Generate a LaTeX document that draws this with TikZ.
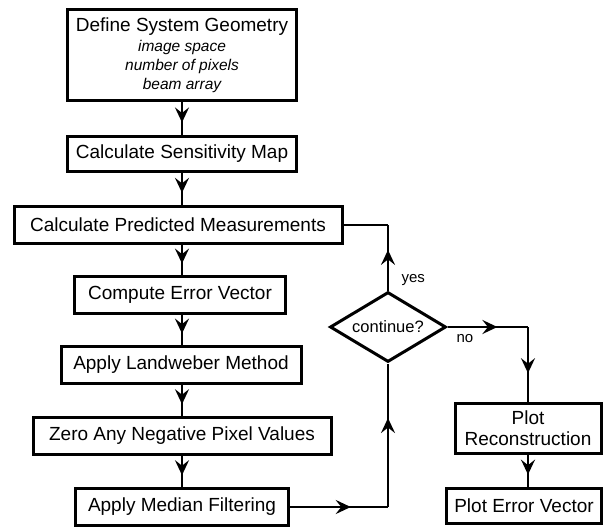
\documentclass[tikz,border=0pt]{standalone}
\usepackage{fontspec}
\setmainfont{Liberation Sans}
\usepackage{tikz}
\usetikzlibrary{shapes.geometric,arrows.meta,positioning,calc,decorations.markings}

\tikzset{
    stepbox/.style={draw, line width=3pt, align=center, inner sep=0pt,
        font=\fontsize{19}{19}\selectfont},
    decision/.style={draw, diamond, line width=3pt, inner sep=0pt, aspect=1.6,
        minimum width=116pt, minimum height=70pt, font=\fontsize{16.5}{18}\selectfont},
    link/.style={line width=2.2pt},
    flow/.style={link, decoration={markings,
        mark=at position 0.62 with {\arrow{Stealth[length=15pt, width=14pt, inset=5.5pt]}}},
        postaction={decorate}},
    answer/.style={font=\fontsize{15}{17}\selectfont},
}

\begin{document}
\begin{tikzpicture}[x=1pt, y=-1pt]
    \useasboundingbox (0,0) rectangle (603,528);

    % Main column
    \node[stepbox, minimum width=229pt, minimum height=91pt] (geom) at (182, 55)
        {Define System Geometry\\[1pt]
         \fontsize{15.5}{19}\selectfont\itshape image space\\
         \fontsize{15.5}{19}\selectfont\itshape number of pixels\\
         \fontsize{15.5}{19}\selectfont\itshape beam array};
    \node[stepbox, minimum width=229pt, minimum height=35pt] (sens) at (182, 154) {Calculate Sensitivity Map};
    \node[stepbox, minimum width=328pt, minimum height=37pt] (pred) at (178, 225) {Calculate Predicted Measurements};
    \node[stepbox, minimum width=211pt, minimum height=37pt] (err) at (180, 295) {Compute Error Vector};
    \node[stepbox, minimum width=240pt, minimum height=37pt] (land) at (181, 365) {Apply Landweber Method};
    \node[stepbox, minimum width=298pt, minimum height=37pt] (zero) at (182, 436) {Zero Any Negative Pixel Values};
    \node[stepbox, minimum width=213pt, minimum height=37pt] (med) at (182, 507) {Apply Median Filtering};

    % Decision and output
    \node[decision] (cont) at (388, 327) {continue?};
    \node[stepbox, minimum width=146pt, minimum height=50pt] (recon) at (528, 428)
        {Plot\\[2pt]Reconstruction};
    \node[stepbox, minimum width=155pt, minimum height=35pt] (plerr) at (524, 506) {Plot Error Vector};

    % Corners of the routed links
    \coordinate (yescorner) at (cont.north |- pred.east);
    \coordinate (nocorner) at (recon.north |- cont.east);
    \coordinate (medcorner) at (cont.south |- med.east);

    % Straight links down the column
    \draw[flow] (geom.south -| sens.north) -- (sens.north);
    \draw[flow] (sens.south) -- (sens.south |- pred.north);
    \draw[flow] (sens.south |- pred.south) -- (sens.south |- err.north);
    \draw[flow] (sens.south |- err.south) -- (sens.south |- land.north);
    \draw[flow] (sens.south |- land.south) -- (sens.south |- zero.north);
    \draw[flow] (sens.south |- zero.south) -- (sens.south |- med.north);

    % Loop back
    \draw[flow] (med.east) -- (medcorner);
    \draw[flow] (medcorner) -- (cont.south);
    \draw[flow] (cont.north) -- (yescorner);
    \draw[link] (yescorner) -- (pred.east);
    \node[answer, anchor=west] (yes) at (398, 280) {yes};

    % Exit
    \draw[flow] (cont.east) -- (nocorner);
    \draw[flow] (nocorner) -- (recon.north);
    \node[answer, anchor=west] (no) at (453, 339) {no};
    \draw[flow] (recon.south) -- (recon.south |- plerr.north);
\end{tikzpicture}
\end{document}
